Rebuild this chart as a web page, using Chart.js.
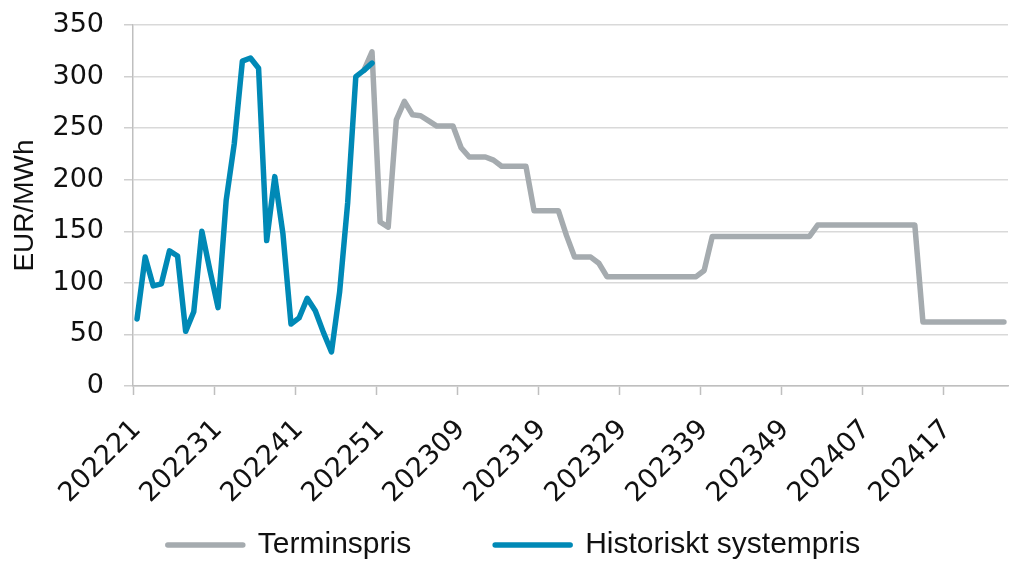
<!DOCTYPE html>
<html>
<head>
<meta charset="utf-8">
<script src="https://cdn.jsdelivr.net/npm/chart.js@4"></script>
<style>
  body { margin: 0; background: #ffffff; }
  canvas { display: block; }
</style>
</head>
<body>
<canvas id="priceChart" width="1024" height="571"></canvas>
<script>
// week labels, 202221 .. 202424
const weeks2022 = ["202221","202222","202223","202224","202225","202226","202227","202228","202229","202230",
  "202231","202232","202233","202234","202235","202236","202237","202238","202239","202240",
  "202241","202242","202243","202244","202245","202246","202247","202248","202249","202250",
  "202251","202252"];
const weeks2023 = ["202301","202302","202303","202304","202305","202306","202307","202308","202309","202310",
  "202311","202312","202313","202314","202315","202316","202317","202318","202319","202320",
  "202321","202322","202323","202324","202325","202326","202327","202328","202329","202330",
  "202331","202332","202333","202334","202335","202336","202337","202338","202339","202340",
  "202341","202342","202343","202344","202345","202346","202347","202348","202349","202350",
  "202351","202352"];
const weeks2024 = ["202401","202402","202403","202404","202405","202406","202407","202408","202409","202410",
  "202411","202412","202413","202414","202415","202416","202417","202418","202419","202420",
  "202421","202422","202423","202424"];

// Historiskt systempris, from 202221 to 202250
const historiskt = [65, 125, 97, 99, 131, 126, 53, 72, 150, 112,
  76, 180, 235, 315, 318, 308, 141, 203, 148, 60,
  66, 85, 73, 52, 33, 91, 178, 300, 306, 313];
const historisktStart = "202221";

// Terminspris, from 202249 to 202424
const termin = [306, 324, 159, 154, 258, 276, 263, 262, 257, 252,
  252, 252, 231, 222, 222, 222, 219, 213, 213, 213,
  213, 170, 170, 170, 170, 146, 125, 125, 125, 119,
  106, 106, 106, 106, 106, 106, 106, 106, 106, 106,
  106, 106, 112, 145, 145, 145, 145, 145, 145, 145,
  145, 145, 145, 145, 145, 145, 156, 156, 156, 156,
  156, 156, 156, 156, 156, 156, 156, 156, 156, 62,
  62, 62, 62, 62, 62, 62, 62, 62, 62, 62];
const terminStart = "202249";

const yTicks = [0, 50, 100, 150, 200, 250, 300, 350];

const weeks = weeks2022.concat(weeks2023, weeks2024);

function placeSeries(values, startWeek) {
    var out = new Array(weeks.length).fill(null);
    var start = weeks.indexOf(startWeek);
    for (var i = 0; i < values.length; i++) {
        out[start + i] = values[i];
    }
    return out;
}

const gray = "#a5abaf";
const blue = "#0089b6";
const tickFont = { family: "DejaVu Sans", size: 27 };

var ctx = document.getElementById("priceChart").getContext("2d");
var chart = new Chart(ctx, {
    type: "line",
    data: {
        labels: weeks,
        datasets: [{
            label: "Terminspris",
            data: placeSeries(termin, terminStart),
            borderColor: gray,
            backgroundColor: gray,
            borderWidth: 5.5,
            borderJoinStyle: "round",
            borderCapStyle: "round",
            pointRadius: 0,
            tension: 0,
            order: 1
        }, {
            label: "Historiskt systempris",
            data: placeSeries(historiskt, historisktStart),
            borderColor: blue,
            backgroundColor: blue,
            borderWidth: 5.5,
            borderJoinStyle: "round",
            borderCapStyle: "round",
            pointRadius: 0,
            tension: 0,
            order: 0
        }]
    },
    options: {
        responsive: false,
        devicePixelRatio: 1,
        animation: false,
        layout: { padding: { left: 20, right: 16, top: 25, bottom: 1 } },
        plugins: {
            tooltip: { enabled: false },
            legend: {
                position: "bottom",
                labels: {
                    boxWidth: 75,
                    boxHeight: 0,
                    padding: 84,
                    color: "#111111",
                    font: { family: "Liberation Sans", size: 30 },
                    sort: (a, b) => a.datasetIndex - b.datasetIndex
                }
            }
        },
        scales: {
            x: {
                offset: true,
                grid: {
                    offset: true,
                    drawOnChartArea: false,
                    tickLength: 9,
                    tickWidth: 1.5,
                    tickColor: (c) => (c.index % 10 === 0 ? "#bfbfbf" : "rgba(0,0,0,0)")
                },
                border: { color: "#bfbfbf", width: 1.5 },
                ticks: {
                    autoSkip: false,
                    minRotation: 45,
                    maxRotation: 45,
                    padding: 19,
                    color: "#111111",
                    font: tickFont,
                    callback: function (value, index) {
                        return index % 10 === 0 ? weeks[index] : "";
                    }
                },
                afterFit: (scale) => {
                    scale.height = 60;
                    scale.paddingRight = 0;
                    // labels run down into the legend band, so don't clip them to the axis box
                    scale._computeLabelArea = () => undefined;
                }
            },
            y: {
                min: yTicks[0],
                max: yTicks[yTicks.length - 1],
                grid: {
                    color: "#d9d9d9",
                    lineWidth: 1.5,
                    tickLength: 9,
                    tickColor: "#cfcfcf"
                },
                border: { color: "#bfbfbf", width: 1.5 },
                ticks: {
                    stepSize: 50,
                    padding: 20,
                    color: "#111111",
                    font: tickFont
                },
                title: {
                    display: true,
                    text: "EUR/MWh",
                    color: "#111111",
                    font: { family: "Liberation Sans", size: 28 },
                    padding: { top: -12, bottom: 0 }
                },
                afterFit: (scale) => {
                    scale.width = 113;
                    scale.paddingTop = 0;
                }
            }
        }
    }
});
</script>
</body>
</html>
